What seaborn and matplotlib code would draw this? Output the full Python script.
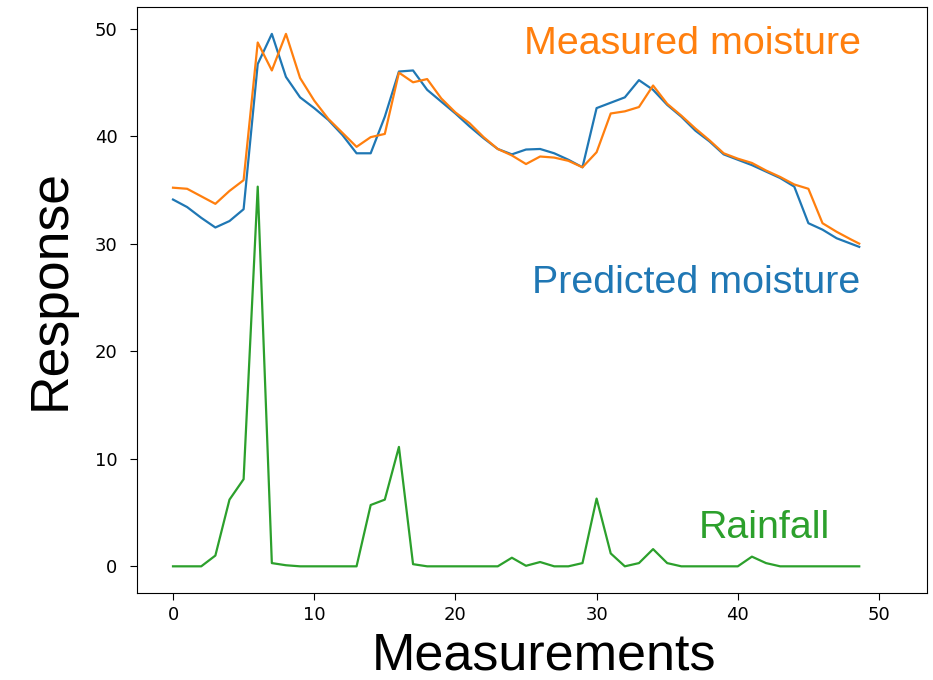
import matplotlib
matplotlib.use('Agg')
import matplotlib.pyplot as plt
import seaborn as sns
import pandas as pd

# measurement index (the last sample sits a bit short of 49)
measurements = list(range(49)) + [48.6]

measured = [35.2, 35.1, 34.4, 33.7, 34.9, 35.9, 48.7, 46.1, 49.5, 45.4,
            43.3, 41.6, 40.3, 39.0, 39.9, 40.2, 45.9, 45.0, 45.3, 43.5,
            42.2, 41.2, 39.9, 38.8, 38.2, 37.4, 38.1, 38.0, 37.7, 37.1,
            38.5, 42.1, 42.3, 42.7, 44.7, 43.0, 41.9, 40.7, 39.6, 38.4,
            37.9, 37.5, 36.8, 36.2, 35.5, 35.1, 31.9, 31.1, 30.4, 30.0]

predicted = [34.1, 33.4, 32.4, 31.5, 32.1, 33.2, 46.7, 49.5, 45.5, 43.6,
             42.6, 41.5, 40.1, 38.4, 38.4, 41.8, 46.0, 46.1, 44.3, 43.2,
             42.1, 40.9, 39.8, 38.8, 38.3, 38.75, 38.8, 38.4, 37.8, 37.1,
             42.6, 43.1, 43.6, 45.2, 44.3, 42.9, 41.8, 40.5, 39.5, 38.3,
             37.8, 37.3, 36.7, 36.1, 35.3, 31.9, 31.3, 30.5, 30.0, 29.7]

rainfall = [0.0, 0.0, 0.0, 1.0, 6.2, 8.1, 35.3, 0.3, 0.1, 0.0,
            0.0, 0.0, 0.0, 0.0, 5.7, 6.2, 11.1, 0.2, 0.0, 0.0,
            0.0, 0.0, 0.0, 0.0, 0.8, 0.05, 0.4, 0.0, 0.0, 0.3,
            6.3, 1.2, 0.0, 0.3, 1.6, 0.3, 0.0, 0.0, 0.0, 0.0,
            0.0, 0.9, 0.3, 0.0, 0.0, 0.0, 0.0, 0.0, 0.0, 0.0]

df = pd.DataFrame({'x': measurements, 'measured': measured,
                   'predicted': predicted, 'rain': rainfall})

plt.style.use('default')
fig = plt.figure(figsize=(9.33, 6.80), dpi=100)
ax = fig.add_axes([137/933, 1 - 593/680, 790/933, 586/680])

sns.lineplot(data=df, x='x', y='predicted', ax=ax, color='tab:blue', lw=1.6)
sns.lineplot(data=df, x='x', y='measured', ax=ax, color='tab:orange', lw=1.6)
sns.lineplot(data=df, x='x', y='rain', ax=ax, color='tab:green', lw=1.6)

lbl_font = ['Liberation Sans', 'DejaVu Sans']
ax.text(48.7, 47.6, 'Measured moisture', color='tab:orange', fontsize=28.4,
        ha='right', family=lbl_font)
ax.text(48.7, 25.4, 'Predicted moisture', color='tab:blue', fontsize=28.4,
        ha='right', family=lbl_font)
ax.text(37.2, 2.6, 'Rainfall', color='tab:green', fontsize=28.4,
        ha='left', family=lbl_font)

ax.set_xlim(-2.55, 53.4)
ax.set_ylim(-2.48, 52.0)
ax.set_xticks([0, 10, 20, 30, 40, 50])
ax.set_yticks([0, 10, 20, 30, 40, 50])
ax.tick_params(labelsize=13, length=5)
ax.tick_params(axis='x', pad=4)
ax.tick_params(axis='y', pad=9)
ax.set_xlabel('Measurements', fontsize=37.5, family=lbl_font, labelpad=6)
ax.set_ylabel('Response', fontsize=38.5, family=lbl_font, labelpad=14)
ax.xaxis.label.set_x(0.515)
ax.yaxis.label.set_y(0.518)

fig.savefig('out.png', dpi=100, facecolor='white')
plt.close(fig)
